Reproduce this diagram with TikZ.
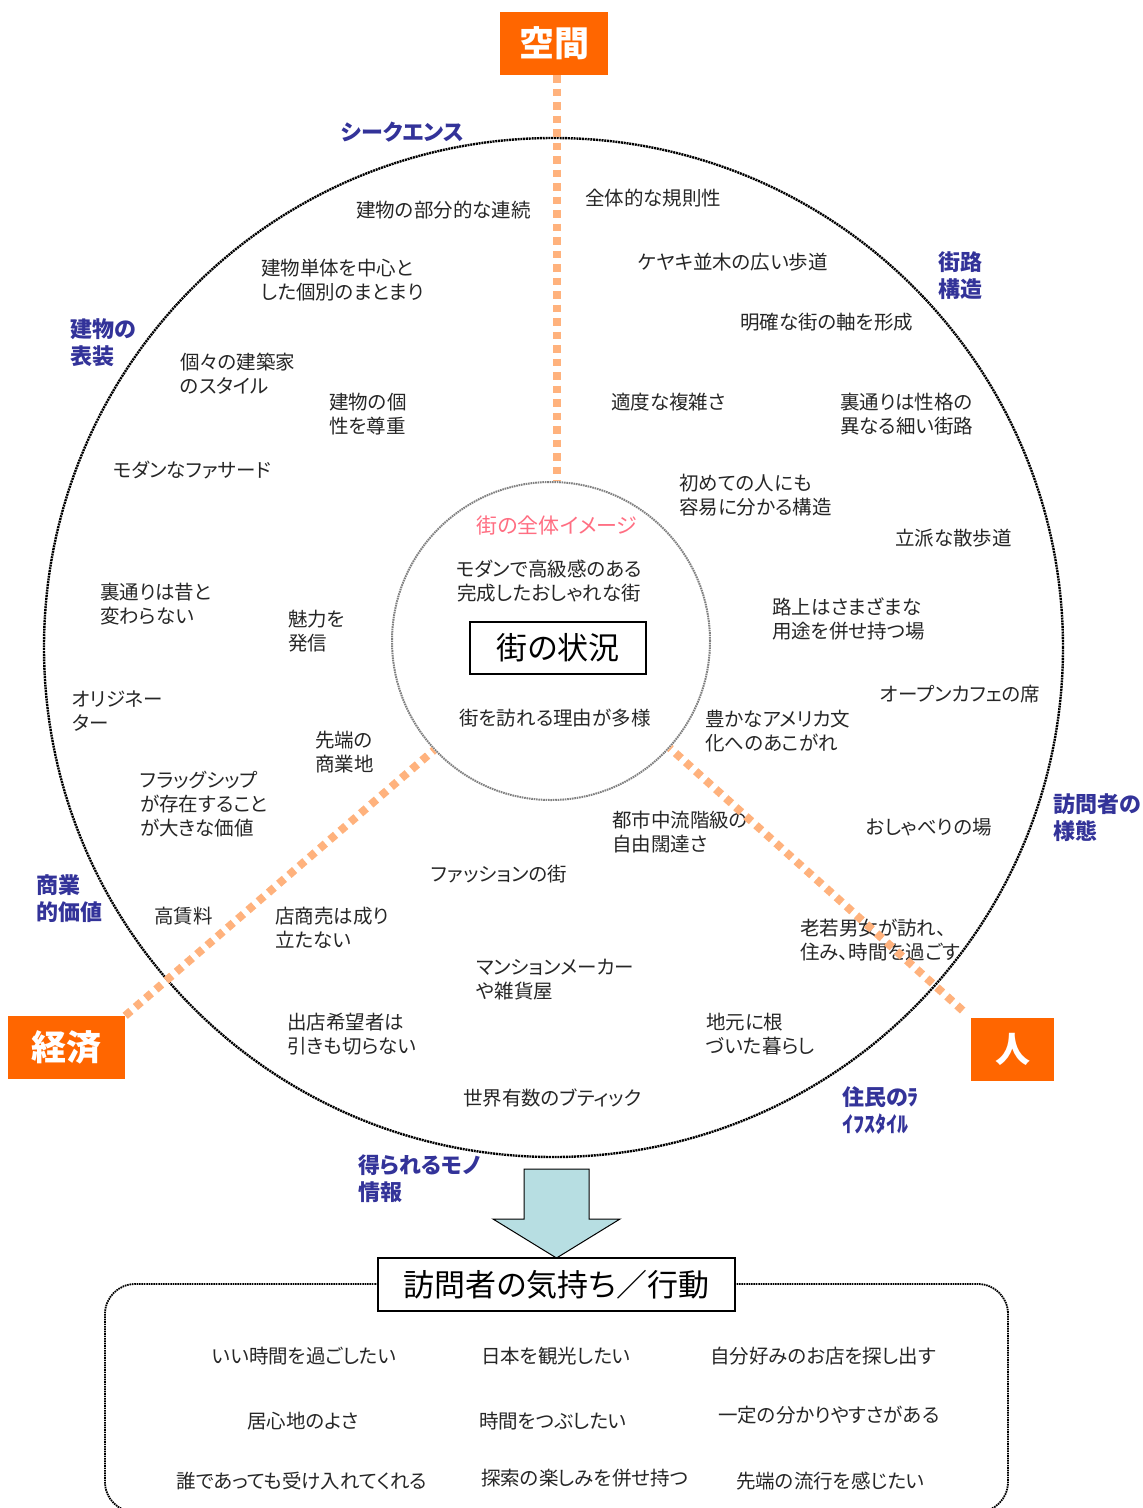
\documentclass[tikz,border=0pt]{standalone}
\usepackage{fontspec}
\setmainfont{Noto Sans CJK JP}[RawFeature=+palt]
\definecolor{boxorange}{RGB}{255,102,0}
\definecolor{lineorange}{RGB}{255,178,125}
\definecolor{lblue}{RGB}{51,51,153}
\definecolor{pinktxt}{RGB}{255,110,130}
\definecolor{arrowfill}{RGB}{183,222,226}
\definecolor{txtcol}{RGB}{38,38,38}
\begin{document}
\begin{tikzpicture}[x=1pt,y=-1pt,
  txt/.style={anchor=north west, inner sep=0pt, align=left, text=txtcol, font=\fontsize{19.5}{24}\selectfont},
  ctxt/.style={txt, anchor=north, align=center},
  lbl/.style={anchor=north west, inner sep=0pt, align=left, text=lblue, font=\bfseries\fontsize{22}{27}\selectfont},
  catbox/.style={fill=boxorange, text=white, inner sep=0pt, font=\bfseries\fontsize{35}{35}\selectfont},
  titlebox/.style={draw=black, line width=1.3pt, fill=white, inner sep=0pt, font=\fontsize{31}{31}\selectfont},
  axisline/.style={draw=lineorange, line width=8pt, dash pattern=on 7.5pt off 6pt},
  bigring/.style={circle, draw=black, line width=2.4pt, dash pattern=on 2pt off 0.8pt, inner sep=0pt},
  smallring/.style={circle, draw=gray, line width=2pt, dash pattern=on 1.6pt off 0.8pt, inner sep=0pt},
  frame/.style={draw=black, line width=1.8pt, dash pattern=on 1.6pt off 0.8pt, rounded corners=30pt},
  blockarrow/.style={fill=arrowfill, draw=black, line width=1pt}
]
\useasboundingbox (0,0) rectangle (1143,1508);

% rings
\node[bigring, minimum size=1019pt] (outer) at (553.5,647.5) {};
\node[smallring, minimum size=318pt] (inner) at (551,641) {};

% bottom frame (cut by the page edge)
\begin{scope}
\clip (0,0) rectangle (1143,1508);
\draw[frame] (105,1284) rectangle (1008,1512);
\end{scope}

% block arrow
\draw[blockarrow] (524,1169) -- (589,1169) -- (589,1219) -- (620,1219) -- (556.5,1258) -- (493,1219) -- (524,1219) -- cycle;

% blue category labels
\node[lbl] (l1) at (341,121.5) {シークエンス};
\node[lbl] (l2) at (938,251.5) {街路\\構造};
\node[lbl] (l3) at (70,318.5) {建物の\\表装};
\node[lbl] (l4) at (1053,793.5) {訪問者の\\様態};
\node[lbl] (l5) at (36,874.5) {商業\\的価値};
\node[lbl] (l6) at (842,1086.5) {住民のﾗ\\ｲﾌｽﾀｲﾙ};
\node[lbl] (l7) at (358,1154.5) {得られるモノ\\情報};

% pink heading in inner circle
\node[inner sep=0pt, text=pinktxt, font=\fontsize{21}{21}\selectfont] (zentai) at (557,526) {街の全体イメージ};

% texts inside the big circle
\node[txt] (a1) at (356,200.5) {建物の部分的な連続};
\node[txt] (a2) at (585,188.5) {全体的な規則性};
\node[txt] (a3) at (261,258.5) {建物単体を中心と\\した個別のまとまり};
\node[txt] (a4) at (638,252.5) {ケヤキ並木の広い歩道};
\node[txt] (a5) at (740,312.5) {明確な街の軸を形成};
\node[txt] (a6) at (180,352.5) {個々の建築家\\のスタイル};
\node[txt] (a7) at (329,392.5) {建物の個\\性を尊重};
\node[txt] (a8) at (611,392.5) {適度な複雑さ};
\node[txt] (a9) at (840,392.5) {裏通りは性格の\\異なる細い街路};
\node[txt] (a10) at (113,460.5) {モダンなファサード};
\node[txt] (a11) at (679,473.5) {初めての人にも\\容易に分かる構造};
\node[txt] (a12) at (895,528.5) {立派な散歩道};
\node[ctxt] (a13) at (549,559.5) {モダンで高級感のある\\完成したおしゃれな街};
\node[txt] (a14) at (100,582.5) {裏通りは昔と\\変わらない};
\node[txt] (a15) at (288,609.5) {魅力を\\発信};
\node[txt] (a16) at (772,597.5) {路上はさまざまな\\用途を併せ持つ場};
\node[txt] (a17) at (880,684.5) {オープンカフェの席};
\node[txt] (a18) at (72,690.5) {オリジネー\\ター};
\node[ctxt] (a19) at (555,708.5) {街を訪れる理由が多様};
\node[txt] (a20) at (705,709.5) {豊かなアメリカ文\\化へのあこがれ};
\node[txt] (a21) at (315,730.5) {先端の\\商業地};
\node[txt] (a22) at (140,770.5) {フラッグシップ\\が存在すること\\が大きな価値};
\node[txt] (a23) at (612,810.5) {都市中流階級の\\自由闊達さ};
\node[txt] (a24) at (866,818.5) {おしゃべりの場};
\node[txt] (a25) at (431,864.5) {ファッションの街};
\node[txt] (a26) at (154,906.5) {高賃料};
\node[txt] (a27) at (275,906.5) {店商売は成り\\立たない};
\node[txt] (a28) at (800,918.5) {老若男女が訪れ、\\住み、時間を過ごす};
\node[txt] (a29) at (476,958.5) {マンションメーカー\\や雑貨屋};
\node[txt] (a30) at (287,1012.5) {出店希望者は\\引きも切らない};
\node[txt] (a31) at (706,1012.5) {地元に根\\づいた暮らし};
\node[txt] (a32) at (463,1088.5) {世界有数のブティック};

% texts in the bottom frame
\node[txt] (b1) at (212,1346.5) {いい時間を過ごしたい};
\node[txt] (b2) at (481,1346.5) {日本を観光したい};
\node[txt] (b3) at (710,1346.5) {自分好みのお店を探し出す};
\node[txt] (b4) at (247,1411.5) {居心地のよさ};
\node[txt] (b5) at (479,1411.5) {時間をつぶしたい};
\node[txt] (b6) at (718,1405.5) {一定の分かりやすさがある};
\node[txt] (b7) at (176,1471.5) {誰であっても受け入れてくれる};
\node[txt] (b8) at (481,1468.5) {探索の楽しみを併せ持つ};
\node[txt] (b9) at (736,1471.5) {先端の流行を感じたい};

% title boxes
\node[titlebox, minimum width=176pt, minimum height=52pt] (jokyo) at (558,648) {街の状況};
\node[titlebox, minimum width=357pt, minimum height=53pt] (kimochi) at (556.5,1284.5) {訪問者の気持ち／行動};

% category boxes
\node[catbox, minimum width=108pt, minimum height=63pt] (kukan) at (554,43.5) {空間};
\node[catbox, minimum width=117pt, minimum height=63pt] (keizai) at (66.5,1047.5) {経済};
\node[catbox, minimum width=83pt, minimum height=63pt] (hito) at (1012.5,1049.5) {人};

% axis lines
\coordinate (ktop) at ([xshift=3pt]kukan.south);
\coordinate (kbot) at (ktop |- inner.north);
\draw[axisline] (ktop) -- (kbot);
\draw[axisline] (keizai.north east) -- (inner.223.5);
\draw[axisline, shorten <=11pt] (hito.north west) -- (inner.318);
\end{tikzpicture}
\end{document}
